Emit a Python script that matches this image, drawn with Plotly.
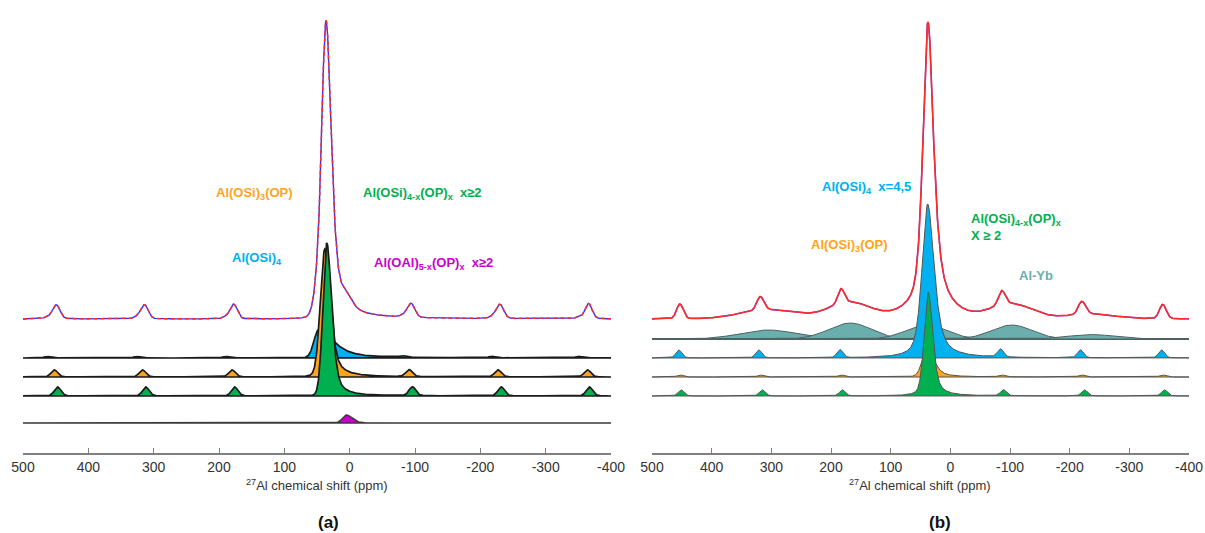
import numpy as np
import plotly.graph_objects as go

# ---------------- data (ppm, intensities in arbitrary units) ----------------
TICKS = [500, 400, 300, 200, 100, 0, -100, -200, -300, -400]

# peak = [centre ppm, height, hwhm high-ppm side, hwhm low-ppm side, lorentz frac high side, lorentz frac low side]
# Panel (a)
A_BLUE_MAIN = [48, 28, 8, 28, 0.1, 0.7]
A_BLUE_SB = [463, 326, 190, -81, -218, -351]
A_BLUE_SB_H = 1.5
A_ORANGE_MAIN = [38, 128, 8, 10, 0.1, 0.6]
A_ORANGE_SB = [452, 317, 180, -91, -227, -364]
A_ORANGE_SB_H = 7
A_GREEN_MAIN = [35, 153, 7, 9, 0.05, 0.5]
A_GREEN_SB = [447, 312, 176, -96, -232, -367]
A_GREEN_SB_H = 9
A_MAGENTA_MAIN = [5, 8, 7, 10, 0.1, 0.3]
A_MAGENTA_SB = [420, 282, 144, -130, -266]
A_MAGENTA_SB_H = 0.4

# Panel (b)
B_ALYB_CENTRES = [305, 168, 40, -103, -236]
B_ALYB_HEIGHTS = [9, 16, 14, 14, 4.5]
B_ALYB_WIDTHS = [55, 42, 40, 40, 45]
B_BLUE_MAIN = [38, 154, 11, 13, 0.5, 0.7]
B_BLUE_SB = [455, 321, 185, -84, -218, -354]
B_BLUE_SB_H = 8
B_ORANGE_MAIN = [40, 26, 9, 15, 0.2, 0.6]
B_ORANGE_SB = [453, 318, 183, -86, -220, -356]
B_ORANGE_SB_H = 2
B_GREEN_MAIN = [37, 104, 8, 9, 0.3, 0.6]
B_GREEN_SB = [451, 315, 181, -89, -225, -359]
B_GREEN_SB_H = 6

SB_HWHM = 6.0

# stacking offsets of the spectra (a.u.)
A_OFF = {"exp": 134, "blue": 95, "orange": 76, "green": 57, "magenta": 30}
B_OFF = {"exp": 134, "alyb": 114, "blue": 95, "orange": 76, "green": 57}

# ---------------- line shapes ----------------
ppm = np.arange(500, -400.01, -0.5)


def shape(x, c, h, w_hi, w_lo, eta_hi, eta_lo):
    hi = x >= c
    w = np.where(hi, w_hi, w_lo)
    eta = np.where(hi, eta_hi, eta_lo)
    d2 = ((x - c) / w) ** 2
    g = np.exp(-np.log(2) * d2)
    lo = 1.0 / (1.0 + d2)
    return h * ((1 - eta) * g + eta * lo)


def component(main, sb_pos, sb_h):
    y = shape(ppm, *main)
    for p in sb_pos:
        y = y + shape(ppm, p, sb_h, SB_HWHM, SB_HWHM, 0.2, 0.2)
    return y


a_blue = component(A_BLUE_MAIN, A_BLUE_SB, A_BLUE_SB_H)
a_orange = component(A_ORANGE_MAIN, A_ORANGE_SB, A_ORANGE_SB_H)
a_green = component(A_GREEN_MAIN, A_GREEN_SB, A_GREEN_SB_H)
a_magenta = component(A_MAGENTA_MAIN, A_MAGENTA_SB, A_MAGENTA_SB_H)
a_fit = a_blue + a_orange + a_green + a_magenta

b_alyb = [shape(ppm, c, h, w, w, 0.0, 0.0)
          for c, h, w in zip(B_ALYB_CENTRES, B_ALYB_HEIGHTS, B_ALYB_WIDTHS)]
b_blue = component(B_BLUE_MAIN, B_BLUE_SB, B_BLUE_SB_H)
b_orange = component(B_ORANGE_MAIN, B_ORANGE_SB, B_ORANGE_SB_H)
b_green = component(B_GREEN_MAIN, B_GREEN_SB, B_GREEN_SB_H)
b_fit = sum(b_alyb) + b_blue + b_orange + b_green

# ---------------- figure ----------------
C_BLUE = "#00b0f0"
C_ORANGE = "#ffa31a"
C_GREEN = "#00b050"
C_MAGENTA = "#cc00cc"
C_ALYB = "#6aafad"
C_EXP = "#3030ff"
C_FIT = "#ff2a2a"

fig = go.Figure()


def filled(y, base, fill, line, width, xa, ya):
    xs = np.concatenate([ppm, ppm[::-1]])
    ys = np.concatenate([base + y, np.full(len(ppm), float(base))])
    fig.add_trace(go.Scatter(x=xs, y=ys, mode="lines", fill="toself",
                             fillcolor=fill, line=dict(color=line, width=width),
                             xaxis=xa, yaxis=ya, hoverinfo="skip", showlegend=False))


def line(y, base, color, width, dash, xa, ya):
    fig.add_trace(go.Scatter(x=ppm, y=base + y, mode="lines",
                             line=dict(color=color, width=width, dash=dash),
                             xaxis=xa, yaxis=ya, hoverinfo="skip", showlegend=False))


# panel (a)
line(a_fit, A_OFF["exp"], C_EXP, 1.4, "solid", "x", "y")
line(a_fit, A_OFF["exp"], C_FIT, 1.5, "4px,3px", "x", "y")
filled(a_blue, A_OFF["blue"], C_BLUE, "#1a1a1a", 1.7, "x", "y")
filled(a_orange, A_OFF["orange"], C_ORANGE, "#1a1a1a", 1.7, "x", "y")
filled(a_green, A_OFF["green"], C_GREEN, "#1a1a1a", 1.7, "x", "y")
filled(a_magenta, A_OFF["magenta"], C_MAGENTA, "#3a3a3a", 1.5, "x", "y")

# panel (b)
line(b_fit, B_OFF["exp"], C_EXP, 1.4, "solid", "x2", "y2")
line(b_fit, B_OFF["exp"], C_FIT, 1.6, "solid", "x2", "y2")
for comp_y in b_alyb:
    filled(comp_y, B_OFF["alyb"], C_ALYB, "#4f6262", 1.0, "x2", "y2")
filled(b_blue, B_OFF["blue"], C_BLUE, "#555555", 1.0, "x2", "y2")
filled(b_orange, B_OFF["orange"], C_ORANGE, "#555555", 1.0, "x2", "y2")
filled(b_green, B_OFF["green"], C_GREEN, "#555555", 1.0, "x2", "y2")

FONT = "Liberation Sans, Arial, sans-serif"
xaxis_common = dict(
    range=[500, -400], tickvals=TICKS, ticktext=[str(t) for t in TICKS],
    ticks="inside", ticklen=5, tickcolor="#808080", tickwidth=1,
    showline=True, linecolor="#808080", linewidth=1.5,
    showgrid=False, zeroline=False, automargin=False,
    tickfont=dict(family=FONT, size=14, color="#333333"),
)
yaxis_common = dict(range=[0, 453], visible=False, showgrid=False, zeroline=False,
                    domain=[0, 1], fixedrange=True, automargin=False)

fig.update_layout(
    template="none",
    width=1205, height=533,
    margin=dict(l=0, r=0, t=0, b=80, pad=0),
    paper_bgcolor="white", plot_bgcolor="white",
    xaxis=dict(domain=[23 / 1205, 611 / 1205], anchor="y", **xaxis_common),
    xaxis2=dict(domain=[652 / 1205, 1189 / 1205], anchor="y2", **xaxis_common),
    yaxis=dict(anchor="x", **yaxis_common),
    yaxis2=dict(anchor="x2", **yaxis_common),
    showlegend=False,
)

anns = []


def label(text, x, y, color, xref, yref, size=13, xanchor="center", align="center"):
    anns.append(dict(text=text, x=x, y=y, xref=xref, yref=yref, showarrow=False,
                     xanchor=xanchor, yanchor="middle", align=align,
                     font=dict(family=FONT, size=size, color=color)))


# panel (a) labels
label("<b>Al(OSi)<sub>3</sub>(OP)</b>", 145, 260, C_ORANGE, "x", "y")
label("<b>Al(OSi)<sub>4-x</sub>(OP)<sub>x</sub>  x≥2</b>", -112, 260, C_GREEN, "x", "y")
label("<b>Al(OSi)<sub>4</sub></b>", 142, 195, C_BLUE, "x", "y")
label("<b>Al(OAl)<sub>5-x</sub>(OP)<sub>x</sub>  x≥2</b>", -129, 190, C_MAGENTA, "x", "y")
# panel (b) labels
label("<b>Al(OSi)<sub>4</sub>  x=4,5</b>", 141, 266, C_BLUE, "x2", "y2")
label("<b>Al(OSi)<sub>4-x</sub>(OP)<sub>x</sub><br>X ≥ 2</b>", -32, 226, C_GREEN, "x2", "y2",
      xanchor="left", align="left")
label("<b>Al(OSi)<sub>3</sub>(OP)</b>", 169, 208, C_ORANGE, "x2", "y2")
label("<b>Al-Yb</b>", -144, 178, C_ALYB, "x2", "y2")

# axis titles and panel tags
for xc in [(23 + 611) / 2 / 1205, (652 + 1189) / 2 / 1205]:
    anns.append(dict(text="<sup>27</sup>Al chemical shift (ppm)", x=xc, y=-32 / 453,
                     xref="paper", yref="paper", showarrow=False, xanchor="center",
                     yanchor="middle", font=dict(family=FONT, size=13, color="#333333")))
anns.append(dict(text="<b>(a)</b>", x=328 / 1205, y=-69 / 453, xref="paper", yref="paper",
                 showarrow=False, xanchor="center", yanchor="middle",
                 font=dict(family=FONT, size=17, color="#111111")))
anns.append(dict(text="<b>(b)</b>", x=940 / 1205, y=-69 / 453, xref="paper", yref="paper",
                 showarrow=False, xanchor="center", yanchor="middle",
                 font=dict(family=FONT, size=17, color="#111111")))

fig.update_layout(annotations=anns)
fig.write_html("out.html", config={"displayModeBar": False},
               post_script="document.body.style.margin='0px';")
